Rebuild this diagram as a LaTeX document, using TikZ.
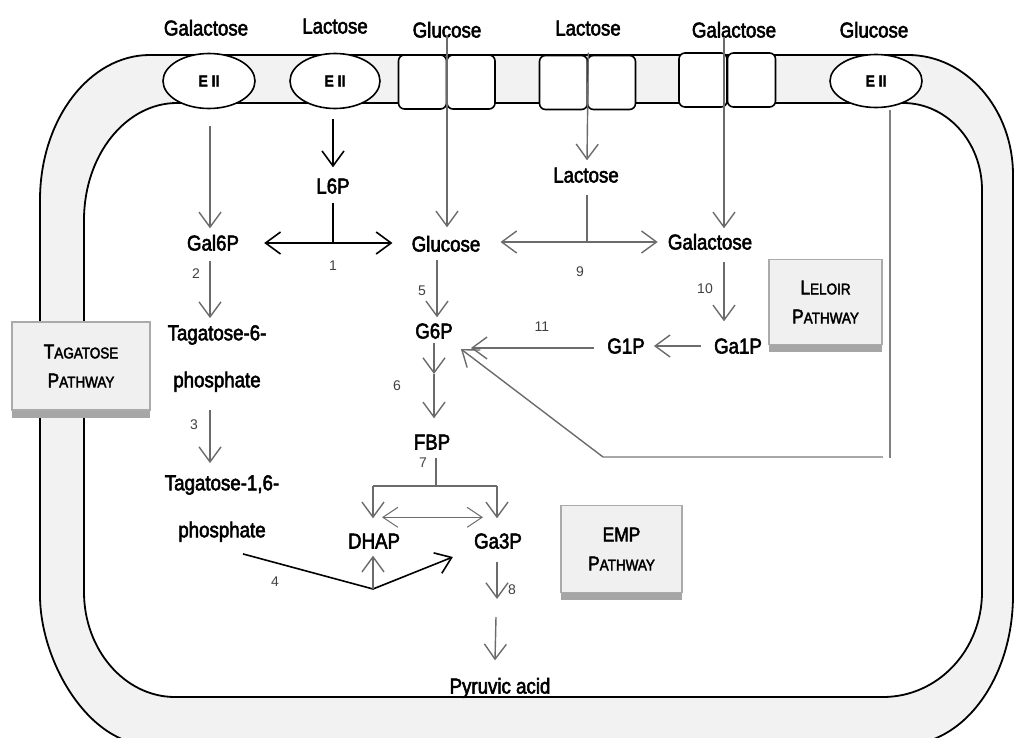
\documentclass[tikz,border=0pt]{standalone}
\usepackage{fontspec}
\setmainfont[FakeStretch=0.87,FakeBold=2.5]{Liberation Sans}
\newfontfamily\numfont{Liberation Sans}
\usetikzlibrary{arrows.meta,shapes.geometric,calc}
\definecolor{arr}{HTML}{6B6B6B}
\definecolor{memb}{HTML}{F2F2F2}
\definecolor{boxfill}{HTML}{F0F0F0}
\definecolor{boxedge}{HTML}{AAAAAA}
\definecolor{shadowc}{HTML}{A6A6A6}
\definecolor{numc}{HTML}{404040}
\definecolor{vgray}{HTML}{808080}
\definecolor{hgray}{HTML}{A8A8A8}
\newcommand\cellouter{(40,200) .. controls (40,120) and (89,55) .. (150,55) -- (908,55) .. controls (966,55) and (1013,109) .. (1013,175) -- (1013,595) .. controls (1013,678) and (964,745) .. (903,745) -- (150,745) .. controls (89,745) and (40,662) .. (40,595) -- cycle}
\newcommand\cellinner{(84,220) .. controls (84,155) and (126,103) .. (177,103) -- (903,103) .. controls (947,103) and (982,142) .. (982,190) -- (982,592) .. controls (982,650) and (938,697) .. (883,697) -- (175,697) .. controls (125,697) and (84,650) .. (84,592) -- cycle}
\newcommand\bigc[1]{{\fontsize{20}{29}\selectfont #1}}
\tikzset{
  gb/.tip={Straight Barb[length=15pt,width=22pt]},
  tb/.tip={Straight Barb[length=15pt,width=20pt]},
  lbl/.style={font=\fontsize{21.5}{24}\selectfont, inner sep=0pt, text height=15pt, text depth=0pt},
  tlbl/.style={font=\fontsize{21.5}{47}\selectfont, align=center, inner sep=0pt},
  num/.style={font=\numfont\fontsize{14}{14}\selectfont, text=numc, inner sep=0pt},
  eii/.style={ellipse, draw, fill=white, line width=1.6pt, inner sep=0pt, minimum width=92pt, minimum height=55pt, font=\bfseries\fontsize{16}{16}\selectfont},
  chan/.style={draw, fill=white, line width=1.6pt, rounded corners=6pt, minimum width=48pt, minimum height=54pt, inner sep=0pt},
  pbox/.style={draw=boxedge, fill=boxfill, line width=1.5pt, inner sep=0pt, align=center, font=\fontsize{15.5}{29}\selectfont},
  ga/.style={draw=arr, line width=1.4pt, -gb},
  gl/.style={draw=arr, line width=1.4pt},
  bk/.style={draw=black, line width=1.6pt},
}
\begin{document}
\begin{tikzpicture}[x=1pt,y=-1pt]
\useasboundingbox (0,0) rectangle (1014,738);
\clip (0,0) rectangle (1014,738);
% cell
\path[fill=memb, even odd rule] \cellouter \cellinner;
\draw[line width=1.8pt] \cellouter;
\draw[line width=1.8pt] \cellinner;
% transporters
\node[eii] (e1) at (209,81) {E II};
\node[eii, minimum width=90pt] (e2) at (335,81) {E II};
\node[eii, minimum height=53pt] (e3) at (876,81) {E II};
\node[chan] (c1a) at (422.5,82) {};
\node[chan] (c1b) at (471,82) {};
\node[chan] (c2a) at (563.5,82.5) {};
\node[chan] (c2b) at (611.5,82.5) {};
\node[chan] (c3a) at (703,80) {};
\node[chan] (c3b) at (751.5,80) {};
% pathway boxes
\fill[shadowc] (12,410) rectangle (150,418);
\node[pbox, minimum width=138pt, minimum height=88pt] (tag) at (81,366) {\bigc{T}AGATOSE\\\bigc{P}ATHWAY};
\fill[shadowc] (769,344) rectangle (882,352);
\node[pbox, minimum width=113pt, minimum height=85pt] (lel) at (825.5,302) {\bigc{L}ELOIR\\\bigc{P}ATHWAY};
\fill[shadowc] (561,592) rectangle (682,600);
\node[pbox, minimum width=121pt, minimum height=87pt] (emp) at (621.5,549) {\bigc{EMP}\\\bigc{P}ATHWAY};
% outside labels
\node[lbl] (tGal1) at (206,28) {Galactose};
\node[lbl] (tLac1) at (335,26) {Lactose};
\node[lbl] (tGlc1) at (447,30) {Glucose};
\node[lbl] (tLac2) at (588,28) {Lactose};
\node[lbl] (tGal2) at (734,30) {Galactose};
\node[lbl] (tGlc2) at (874,30) {Glucose};
% inside labels
\node[lbl] (l6p) at (333,186) {L6P};
\node[lbl] (gal6p) at (213,243) {Gal6P};
\node[lbl] (glc) at (446,244) {Glucose};
\node[lbl] (lac) at (586,175) {Lactose};
\node[lbl] (gal) at (710,242) {Galactose};
\node[lbl] (g6p) at (434,331) {G6P};
\node[lbl] (g1p) at (626,346) {G1P};
\node[lbl] (ga1p) at (738,346) {Ga1P};
\node[lbl] (fbp) at (432,442) {FBP};
\node[lbl] (dhap) at (374,541) {DHAP};
\node[lbl] (ga3p) at (498,541) {Ga3P};
\node[lbl] (pyr) at (500,686) {Pyruvic acid};
\node[tlbl] (t6p) at (217,358.5) {Tagatose-6-\\phosphate};
\node[tlbl] (t16p) at (222,508.5) {Tagatose-1,6-\\phosphate};
% numbers
\node[num] (n1) at (333,266) {1};
\node[num] (n2) at (196,274) {2};
\node[num] (n3) at (194,425) {3};
\node[num] (n4) at (275,582) {4};
\node[num] (n5) at (422,291) {5};
\node[num] (n6) at (397,386) {6};
\node[num] (n7) at (423,463) {7};
\node[num] (n8) at (512,590) {8};
\node[num] (n9) at (580,272) {9};
\node[num] (n10) at (705,289) {10};
\node[num] (n11) at (542,327) {11};
% junctions
\coordinate (j1) at (333,243);
\coordinate (j4) at (373,589);
\coordinate (j9) at (587,242);
\coordinate (m6) at (434,374);
\coordinate (j7) at (436,486);
\coordinate (jL) at (373,486);
\coordinate (jR) at (497,486);
\coordinate (m8a) at (497,599);
\coordinate (m8b) at (496,617);
\coordinate (jr) at (890,458);
\coordinate (jd) at (603,457);
% tagatose pathway
\draw[ga] ($(e1.south)+(1,17)$) -- ($(e1.south |- gal6p.north)+(1,-7)$);
\draw[ga] ($(gal6p.south)+(-3,10)$) -- ($(t6p.north)+(-7,-7)$);
\draw[ga] ($(t6p.south)+(-7,18)$) -- ($(t16p.north)+(-12,-12)$);
\draw[bk, -gb] ($(t16p.south)+(21,12)$) -- (j4) -- ($(ga3p.west)+(-21,16)$);
\draw[ga] (j4) -- ($(dhap.south)+(-1,7)$);
% lactose PTS
\draw[bk, -gb] ($(e2.south)+(-2,10)$) -- ($(l6p.north)+(0,-11)$);
\draw[bk] ($(l6p.south)+(0,9)$) -- (j1);
\draw[bk, gb-gb] ($(gal6p.east)+(25,0)$) -- ($(glc.west |- gal6p.east)+(-19,0)$);
% channels
\draw[ga] ($(tGlc1.center)+(0,5)$) -- ($(tGlc1.center |- glc.north)+(0,-9)$);
\draw[ga] ($(c2a.north east)+(0,-2)$) -- ($(lac.north)+(1,-7)$);
\draw[ga] ($(tGal2.center)+(-10,7)$) -- ($(gal.north)+(14,-6)$);
% lactose hydrolysis
\draw[gl] ($(lac.south)+(1,12)$) -- (j9);
\draw[draw=arr, line width=1.4pt, gb-gb] ($(glc.east)+(20,-2)$) -- ($(gal.west)+(-10,0)$);
% glycolysis
\draw[ga] ($(glc.south)+(-9,8)$) -- ($(g6p.north)+(3,-6)$);
\draw[ga] ($(g6p.south)+(0,4)$) -- (m6);
\draw[ga] (m6) -- ($(fbp.north)+(2,-16)$);
\draw[gl] ($(fbp.south)+(4,8)$) -- (j7);
\draw[gl] (jL) -- (jR);
\draw[ga] (jL) -- ($(dhap.north)+(-1,-15)$);
\draw[ga] (jR) -- ($(ga3p.north)+(-1,-15)$);
\draw[draw=arr, line width=1pt, tb-tb] ($(dhap.north)+(8,-16)$) -- ($(ga3p.north)+(-15,-16)$);
\draw[ga] ($(ga3p.south)+(-1,13)$) -- (m8a);
\draw[ga] (m8b) -- ($(pyr.north)+(-5,-18)$);
% Leloir
\draw[ga] ($(gal.south)+(14,12)$) -- ($(ga1p.north)+(-14,-17)$);
\draw[ga] ($(ga1p.west)+(-13,0)$) -- ($(g1p.east)+(9,0)$);
\draw[ga] ($(g1p.west)+(-13,2)$) -- ($(g6p.east)+(18,17)$);
% glucose PTS
\draw[draw=vgray, line width=1.3pt] ($(e3.south)+(14,2)$) -- (jr);
\draw[draw=hgray, line width=1.6pt] ($(jr)+(-7,-1)$) -- (jd);
\draw[ga] (jd) -- ($(g6p.east)+(8,18)$);
\end{tikzpicture}
\end{document}
